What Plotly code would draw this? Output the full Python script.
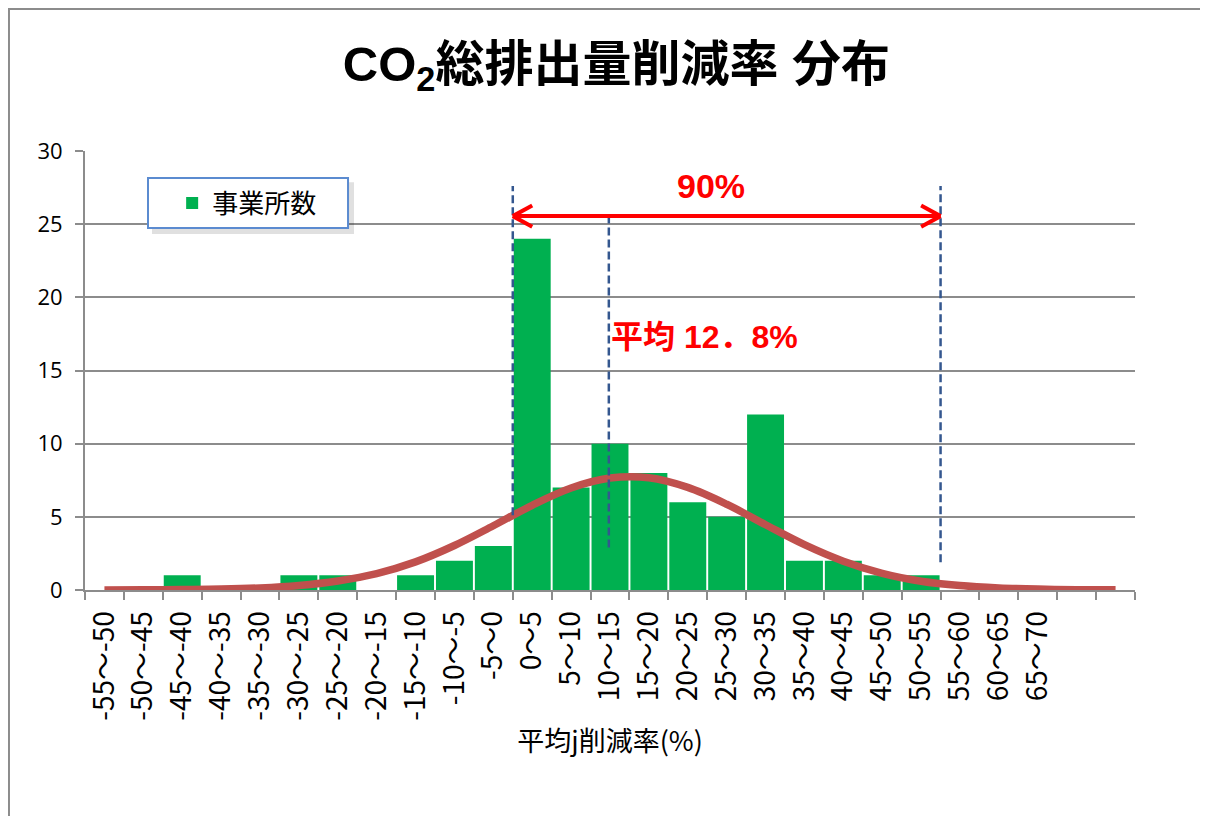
import plotly.graph_objects as go

# histogram classes (%); the axis has two more, unlabeled slots on the right
categories = [
    "-55～-50", "-50～-45", "-45～-40", "-40～-35", "-35～-30", "-30～-25",
    "-25～-20", "-20～-15", "-15～-10", "-10～-5", "-5～0", "0～5", "5～10",
    "10～15", "15～20", "20～25", "25～30", "30～35", "35～40", "40～45",
    "45～50", "50～55", "55～60", "60～65", "65～70",
]
counts = [0, 0, 1, 0, 0, 1, 1, 0, 1, 2, 3, 24, 7, 10, 8, 6, 5, 12, 2, 2, 1, 1, 0, 0, 0, 0, 0]
normal_curve = [
    0.00, 0.01, 0.03, 0.06, 0.14, 0.31, 0.62, 1.12, 1.92, 3.04, 4.39, 5.79, 6.97,
    7.65, 7.67, 7.01, 5.86, 4.46, 3.10, 1.97, 1.14, 0.60, 0.30, 0.14, 0.06, 0.02, 0.01,
]
y_ticks = [0, 5, 10, 15, 20, 25, 30]

GREEN = "#00B050"
CURVE = "#C0504D"
GRID = "#8C8C8C"
DASH = "#34578F"
RED = "#FF0000"
CJK = "Noto Sans CJK JP"
LATIN = "Open Sans, Noto Sans CJK JP"

slots = list(range(len(counts)))

fig = go.Figure()
fig.add_trace(go.Bar(
    x=slots, y=counts, name="事業所数",
    marker=dict(color=GREEN, line=dict(width=0)),
))
fig.add_trace(go.Scatter(
    x=slots, y=normal_curve, mode="lines", showlegend=False,
    line=dict(color=CURVE, width=7.5, shape="spline", smoothing=1.0),
))

# positions of the guide lines, in slot units
lo, hi, mean_pos = 10.5, 21.5, 12.97
arrow_y = 25.55

shapes = [
    # chart frame
    dict(type="rect", xref="paper", yref="paper", x0=-0.0724, x1=1.2, y0=-0.6, y1=1.3235,
         line=dict(color=GRID, width=2), fillcolor="rgba(0,0,0,0)", layer="below"),
    # legend shadow + box
    dict(type="rect", xref="paper", yref="paper", x0=0.0638, x1=0.2562, y0=0.811, y1=0.929,
         line=dict(width=0), fillcolor="rgba(0,0,0,0.12)", layer="above"),
    dict(type="rect", xref="paper", yref="paper", x0=0.06, x1=0.2505, y0=0.8246, y1=0.9385,
         line=dict(color="#5B8BD0", width=2), fillcolor="white", layer="above"),
    # dashed guides
    dict(type="line", x0=lo, x1=lo, y0=5.1, y1=27.6,
         line=dict(color=DASH, width=2.5, dash="8px,4px"), layer="above"),
    dict(type="line", x0=mean_pos, x1=mean_pos, y0=2.9, y1=25.5,
         line=dict(color=DASH, width=2.5, dash="8px,4px"), layer="above"),
    dict(type="line", x0=hi, x1=hi, y0=1.9, y1=27.6,
         line=dict(color=DASH, width=2.5, dash="8px,4px"), layer="above"),
    # red double arrow
    dict(type="line", x0=lo, x1=hi, y0=arrow_y, y1=arrow_y,
         line=dict(color=RED, width=4), layer="above"),
]
for tip, d in ((lo, 0.5), (hi, -0.5)):
    for dy in (0.72, -0.72):
        shapes.append(dict(type="line", x0=tip, x1=tip + d, y0=arrow_y, y1=arrow_y + dy,
                           line=dict(color=RED, width=4), layer="above"))

# the page body has an 8px margin, so the figure is 8px smaller than the window
fig.update_layout(
    width=1200, height=808,
    margin=dict(l=77, r=73, t=143, b=226),
    paper_bgcolor="white", plot_bgcolor="white",
    bargap=0.05,
    shapes=shapes,
    title=dict(
        text="<b>CO<sub>2</sub>総排出量削減率 分布</b>",
        x=0.507, xref="container", xanchor="center",
        y=1 - 56 / 808, yref="container", yanchor="middle",
        font=dict(family="Liberation Sans, " + CJK, size=49, color="black"),
    ),
    legend=dict(
        x=0.083, y=0.8815, xanchor="left", yanchor="middle",
        bgcolor="rgba(0,0,0,0)", borderwidth=0,
        font=dict(family=CJK, size=26, color="black"),
    ),
    annotations=[
        dict(x=15.6, y=27.6, text="<b>90%</b>", showarrow=False,
             font=dict(family="Liberation Sans", size=34, color=RED)),
        dict(x=mean_pos, y=17.3, text="<b>平均 12．8%</b>", showarrow=False,
             xanchor="left", font=dict(family="Liberation Sans, " + CJK, size=32, color=RED)),
    ],
)
fig.update_xaxes(
    range=[-0.5, len(counts) - 0.5],
    tickvals=slots[:len(categories)], ticktext=categories,
    ticks="outside", ticklen=8, tickwidth=2, tickcolor="rgba(0,0,0,0)",
    minor=dict(tickvals=[s - 0.5 for s in slots + [len(counts)]], ticks="outside",
               ticklen=8, tickwidth=2, tickcolor=GRID, showgrid=False),
    showline=True, linecolor=GRID, linewidth=2, showgrid=False, zeroline=False,
    tickangle=-90, tickfont=dict(family=CJK, size=28, color="black"),
    title=dict(text="平均j削減率(%)", standoff=12,
               font=dict(family=CJK, size=27, color="black")),
)
fig.update_yaxes(
    range=[0, 30], tickvals=y_ticks, ticks="outside", ticklen=8, tickwidth=2, tickcolor=GRID,
    showline=True, linecolor=GRID, linewidth=2,
    showgrid=True, gridcolor=GRID, gridwidth=2, zeroline=False,
    ticklabelstandoff=8,
    tickfont=dict(family=LATIN, size=22, color="black"),
)

fig.write_html("out.html")
